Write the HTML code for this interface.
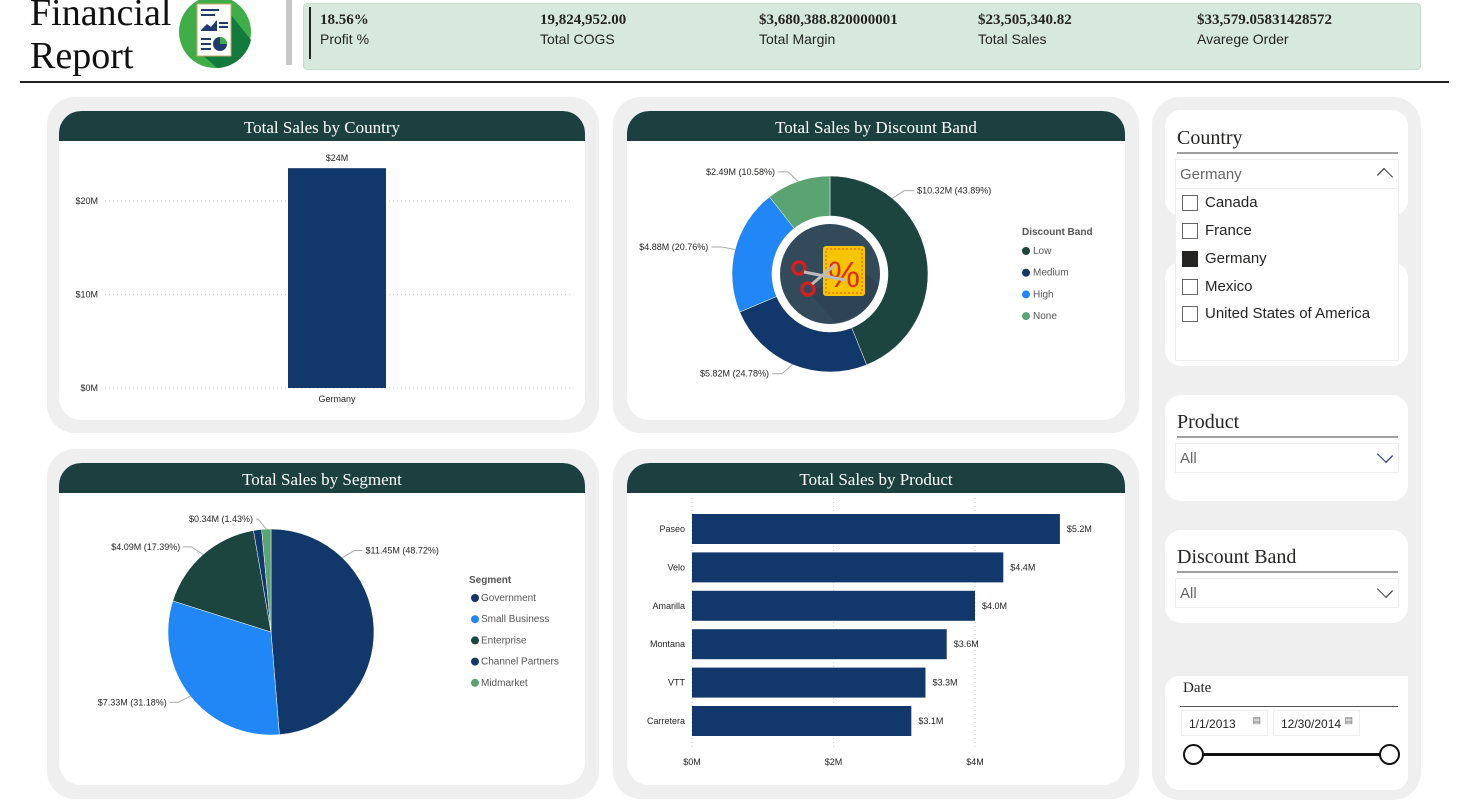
<!DOCTYPE html>
<html><head><meta charset="utf-8">
<style>
*{box-sizing:border-box;margin:0;padding:0}
body{width:1461px;height:802px;background:#fff;position:relative;overflow:hidden;font-family:"Liberation Sans",sans-serif;color:#252423}
.abs{position:absolute}
.serif{font-family:"Liberation Serif","DejaVu Serif",serif}
.panel{position:absolute;background:#efefef;border-radius:28px}
.card{position:absolute;background:#fff;border-radius:22px;overflow:hidden}
.hdr{position:absolute;left:0;right:0;top:0;height:30px;background:#1c4040;color:#fff;text-align:center;font:17px/34px "Liberation Serif",serif;border-radius:22px 22px 0 0}
.kpi{position:absolute;top:8px}
.kpi b{display:block;font:bold 15px "Liberation Serif",serif;color:#252423}
.kpi span{display:block;font-size:14px;margin-top:2px;color:#252423}
.sl{position:absolute;background:#fff;border-radius:16px}
.slt{position:absolute;left:12px;font:20px "Liberation Serif",serif;color:#252423}
.sline{position:absolute;left:12px;right:10px;height:2px;background:#a0a0a0}
.dd{position:absolute;left:10px;right:9px;height:30px;border:1px solid #eee;font-size:15px;color:#666;padding:6px 4px}
.chev{position:absolute;right:8px;top:6px;width:10px;height:10px;border-right:1.5px solid #1e3a8a;border-bottom:1.5px solid #1e3a8a;transform:rotate(45deg) scaleX(1.3)}
.cb{position:absolute;left:1182px;width:16px;height:16px;border:1px solid #666}
.cbl{position:absolute;left:1205px;font-size:15px;color:#252423}
svg text{font-family:"Liberation Sans",sans-serif}
</style></head><body>

<div class="abs serif" style="left:30px;top:-8px;font-size:38px;line-height:43px;color:#111">Financial<br>Report</div>
<svg class="abs" style="left:177px;top:0" width="76" height="68">
<circle cx="38" cy="32" r="36" fill="#3fae49"/><path d="M50 10 L74 40 A36 36 0 0 1 40 68 L20 50Z" fill="#127a3c"/>
<rect x="20" y="4" width="34" height="52" fill="#fff" stroke="#c9a86a"/>
<rect x="24" y="9" width="18" height="2" fill="#1e3a6e"/><rect x="24" y="14" width="14" height="2" fill="#1e3a6e"/>
<path d="M24 30 L30 24 L34 27 L40 20 L40 31 L24 31Z" fill="#1e3a6e"/>
<rect x="42" y="22" width="9" height="2" fill="#1e3a6e"/><rect x="42" y="26" width="9" height="2" fill="#1e3a6e"/>
<rect x="24" y="38" width="10" height="2" fill="#1e3a6e"/><rect x="24" y="43" width="10" height="2" fill="#1e3a6e"/><rect x="24" y="48" width="10" height="2" fill="#1e3a6e"/>
<circle cx="43" cy="44" r="7" fill="#1e3a6e"/><path d="M43 44 L43 37 A7 7 0 0 1 50 44Z" fill="#3fae49"/>
</svg>
<div class="abs" style="left:286px;top:0;width:6px;height:65px;background:#c8c8c8"></div>
<div class="abs" style="left:303px;top:3px;width:1118px;height:67px;background:#d6e9dc;border:1px solid #c7dccc;border-radius:4px">
 <div class="abs" style="left:5px;top:3px;width:2px;height:52px;background:#222"></div>
 <div class="kpi" style="left:16px"><b>18.56%</b><span>Profit %</span></div>
 <div class="kpi" style="left:236px"><b>19,824,952.00</b><span>Total COGS</span></div>
 <div class="kpi" style="left:455px"><b>$3,680,388.820000001</b><span>Total Margin</span></div>
 <div class="kpi" style="left:674px"><b>$23,505,340.82</b><span>Total Sales</span></div>
 <div class="kpi" style="left:893px"><b>$33,579.05831428572</b><span>Avarege Order</span></div>
</div>
<div class="abs" style="left:20px;top:81px;width:1429px;height:2px;background:#222"></div>

<div class="panel" style="left:47px;top:97px;width:552px;height:336px"></div>
<div class="panel" style="left:613px;top:97px;width:526px;height:336px"></div>
<div class="panel" style="left:47px;top:449px;width:552px;height:350px"></div>
<div class="panel" style="left:613px;top:449px;width:526px;height:350px"></div>
<div class="panel" style="left:1152px;top:97px;width:269px;height:703px"></div>

<div class="card" style="left:59px;top:111px;width:526px;height:309px"><div class="hdr">Total Sales by Country</div></div>
<div class="card" style="left:627px;top:111px;width:498px;height:309px"><div class="hdr">Total Sales by Discount Band</div></div>
<div class="card" style="left:59px;top:463px;width:526px;height:322px"><div class="hdr">Total Sales by Segment</div></div>
<div class="card" style="left:627px;top:463px;width:498px;height:322px"><div class="hdr">Total Sales by Product</div></div>

<svg id="main" class="abs" style="left:0;top:0" width="1461" height="802"></svg>

<div class="sl" style="left:1165px;top:262px;width:243px;height:104px"></div>
<div class="sl" style="left:1165px;top:110px;width:243px;height:106px">
 <div class="slt" style="top:17px">Country</div>
 <div class="sline" style="top:42px"></div>
</div>
<div class="abs" style="left:1175px;top:159px;width:224px;height:202px;background:#fff;border:1px solid #eee">
 <div style="position:relative;height:29px;border-bottom:1px solid #eee;font-size:15px;color:#666;padding:6px 4px">Germany<span style="position:absolute;right:8px;top:11px;width:10px;height:10px;border-left:1.5px solid #444;border-top:1.5px solid #444;transform:rotate(45deg) scaleX(1.3)"></span></div>
</div>
<div class="cb" style="top:195px"></div><div class="cbl" style="top:194px">Canada</div>
<div class="cb" style="top:223px"></div><div class="cbl" style="top:222px">France</div>
<div class="cb" style="top:251px;background:#252423;border-color:#252423"></div><div class="cbl" style="top:250px">Germany</div>
<div class="cb" style="top:279px"></div><div class="cbl" style="top:278px">Mexico</div>
<div class="cb" style="top:306px"></div><div class="cbl" style="top:305px">United States of America</div>

<div class="sl" style="left:1165px;top:395px;width:243px;height:106px">
 <div class="slt" style="top:16px">Product</div><div class="sline" style="top:41px"></div>
 <div class="dd" style="top:48px">All<span class="chev"></span></div>
</div>
<div class="sl" style="left:1165px;top:530px;width:243px;height:93px">
 <div class="slt" style="top:16px">Discount Band</div><div class="sline" style="top:41px"></div>
 <div class="dd" style="top:48px">All<span class="chev" style="border-color:#444"></span></div>
</div>
<div class="sl" style="left:1165px;top:676px;width:243px;height:114px;border-radius:14px 0 14px 14px">
 <div class="slt" style="top:4px;font-size:15px;left:18px">Date</div><div class="sline" style="top:30px;left:15px;height:1px;background:#555"></div>
 <div class="abs" style="left:16px;top:34px;width:87px;height:26px;border:1px solid #eee;font-size:12px;padding:6px 7px">1/1/2013<span style="position:absolute;right:6px;top:4px;font-size:9px;color:#666">&#9636;</span></div>
 <div class="abs" style="left:108px;top:34px;width:87px;height:26px;border:1px solid #eee;font-size:12px;padding:6px 7px">12/30/2014<span style="position:absolute;right:6px;top:4px;font-size:9px;color:#666">&#9636;</span></div>
 <div class="abs" style="left:28px;top:77px;width:196px;height:3px;background:#111"></div>
 <div class="abs" style="left:18px;top:68px;width:21px;height:21px;border:2px solid #111;border-radius:50%;background:#fff"></div>
 <div class="abs" style="left:214px;top:68px;width:21px;height:21px;border:2px solid #111;border-radius:50%;background:#fff"></div>
</div>

<script>
const countryCats = ["Germany"];
const countryVals = [23.51];
const countryTicks = [0, 10, 20];

const discCats = ["Low","Medium","High","None"];
const discVals = [10.32, 5.82, 4.88, 2.49];
const discPct = ["43.89%","24.78%","20.76%","10.58%"];

const segCats = ["Government","Small Business","Enterprise","Channel Partners","Midmarket"];
const segVals = [11.45, 7.33, 4.09, 0.30, 0.34];
const segPct = ["48.72%","31.18%","17.39%","1.28%","1.43%"];

const prodCats = ["Paseo","Velo","Amarilla","Montana","VTT","Carretera"];
const prodVals = [5.2, 4.4, 4.0, 3.6, 3.3, 3.1];
const prodTicks = [0, 2, 4];

const svg = document.getElementById('main');
const NS = 'http://www.w3.org/2000/svg';
function mk(tag, attrs, parent){const e=document.createElementNS(NS,tag);for(const k in attrs)e.setAttribute(k,attrs[k]);(parent||svg).appendChild(e);return e;}
function txt(x,y,s,attrs){const t=mk('text',Object.assign({x:x,y:y,'font-size':9,fill:'#252423'},attrs||{}));t.textContent=s;return t;}

const cy = v => 388 - v*9.35;
countryTicks.forEach(v=>{
  const g=mk('line',{x1:105,x2:572,y1:cy(v),y2:cy(v),stroke:'#ccc','stroke-dasharray':'1,3'});
  
  
  const t=txt(98,cy(v)+3,'$'+v+'M',{'text-anchor':'end','font-family':'Liberation Serif'});
  
  
});
countryCats.forEach((c,i)=>{
  const r=mk('rect',{x:288,y:cy(countryVals[i]),width:98,height:cy(0)-cy(countryVals[i]),fill:'#12386b'});
  
  
  const l=txt(337,cy(countryVals[i])-7,'$'+Math.round(countryVals[i])+'M',{'text-anchor':'middle'});
  
  
  const x=txt(337,402,c,{'text-anchor':'middle','font-family':'Liberation Serif'});
  
  
});

function arc(cx,cy,r0,r1,a0,a1){
  const p=(r,a)=>[cx+r*Math.sin(a),cy-r*Math.cos(a)];
  const lg=(a1-a0)>Math.PI?1:0;
  const [x1,y1]=p(r1,a0),[x2,y2]=p(r1,a1);
  if(r0===0) return `M${cx},${cy}L${x1},${y1}A${r1},${r1} 0 ${lg} 1 ${x2},${y2}Z`;
  const [x3,y3]=p(r0,a1),[x4,y4]=p(r0,a0);
  return `M${x1},${y1}A${r1},${r1} 0 ${lg} 1 ${x2},${y2}L${x3},${y3}A${r0},${r0} 0 ${lg} 0 ${x4},${y4}Z`;
}
function labelAngle(a){ return (a>Math.PI/3 && a<Math.PI) ? a*0.5 : a; }
function labelLine(cx,cy,r,a,out,lab){
  const ex=cx+(r+6)*Math.sin(a), ey=cy-(r+6)*Math.cos(a);
  const dir=Math.sin(a)>=0?1:-1;
  const mx=ex+dir*8, my=ey-4*Math.cos(a);
  mk('polyline',{points:`${cx+r*Math.sin(a)},${cy-r*Math.cos(a)} ${mx},${my} ${mx+dir*out},${my}`,fill:'none',stroke:'#aaa'});
  return txt(mx+dir*(out+3),my+3,lab,{'text-anchor':dir>0?'start':'end'});
}

const discColors=['#1c4540','#12386b','#2187f6','#5aa472'];
{
  const tot=discVals.reduce((a,b)=>a+b,0);let a=0;
  discVals.forEach((v,i)=>{
    const a1=a+v/tot*2*Math.PI;
    const p=mk('path',{d:arc(830,274,58,98,a,a1),fill:discColors[i],stroke:'#fff','stroke-width':0.5});
    
    
    const l=labelLine(830,274,98,labelAngle((a+a1)/2),10,'$'+discVals[i].toFixed(2)+'M ('+discPct[i]+')');
    
    
    a=a1;
  });
  mk('circle',{cx:830,cy:274,r:50,fill:'#334a5b'});
  mk('path',{d:'M808 292 L835 322 A50 50 0 0 0 878 285 L862 270Z',fill:'#2c3f4e',opacity:0.6});
  mk('rect',{x:823,y:246,width:42,height:50,rx:3,fill:'#f7c400'});
  mk('rect',{x:826,y:249,width:36,height:44,fill:'none',stroke:'#e0501a','stroke-dasharray':'2,2'});
  const pc=txt(844,287,'%',{'text-anchor':'middle','font-size':36,fill:'#e02d1a'});
  
  
  mk('circle',{cx:799,cy:268,r:6,fill:'none',stroke:'#d21f1f','stroke-width':3.5});
  mk('circle',{cx:808,cy:289,r:6,fill:'none',stroke:'#d21f1f','stroke-width':3.5});
  mk('path',{d:'M804 272 L845 280 M812 284 L835 265',stroke:'#bbb','stroke-width':3});
  const lt=txt(1022,235,'Discount Band',{'font-size':10,'font-weight':'bold',fill:'#555'});
  
  
  discCats.forEach((c,i)=>{
    mk('circle',{cx:1026,cy:251+i*21.7,r:4,fill:discColors[i]});
    const t=txt(1033,254+i*21.7,c,{'font-size':10,fill:'#555'});
    
    
  });
}

const segColors=['#12386b','#2187f6','#1c4540','#12386b','#5aa472'];
{
  const tot=segVals.reduce((a,b)=>a+b,0);let a=0;
  segVals.forEach((v,i)=>{
    const a1=a+v/tot*2*Math.PI;
    const p=mk('path',{d:arc(271,632,0,103,a,a1),fill:segColors[i],stroke:'#fff','stroke-width':0.5});
    
    
    if(i!==3){
      const l=labelLine(271,632,103,labelAngle((a+a1)/2),i===4?2:8,'$'+segVals[i].toFixed(2)+'M ('+segPct[i]+')');
      
      
    }
    a=a1;
  });
  const lt=txt(469,583,'Segment',{'font-size':10,'font-weight':'bold',fill:'#555'});
  
  
  segCats.forEach((c,i)=>{
    mk('circle',{cx:475,cy:598+i*21.2,r:4,fill:segColors[i]});
    const t=txt(481,601+i*21.2,c,{'font-size':10,fill:'#555'});
    
    
  });
}

const px = v => 692 + v*70.75;
prodTicks.forEach(v=>{
  mk('line',{x1:px(v),x2:px(v),y1:498,y2:748,stroke:'#ccc','stroke-dasharray':'1,3'});
  const t=txt(px(v),765,'$'+v+'M',{'text-anchor':'middle'});
  
  
});
prodCats.forEach((c,i)=>{
  const y=514+i*38.4;
  const r=mk('rect',{x:px(0),y:y,width:px(prodVals[i])-px(0),height:30,fill:'#12386b'});
  
  
  const l=txt(px(prodVals[i])+7,y+18,'$'+prodVals[i].toFixed(1)+'M');
  
  
  const n=txt(685,y+18,c,{'text-anchor':'end'});
  
  
});
</script>
</body></html>
